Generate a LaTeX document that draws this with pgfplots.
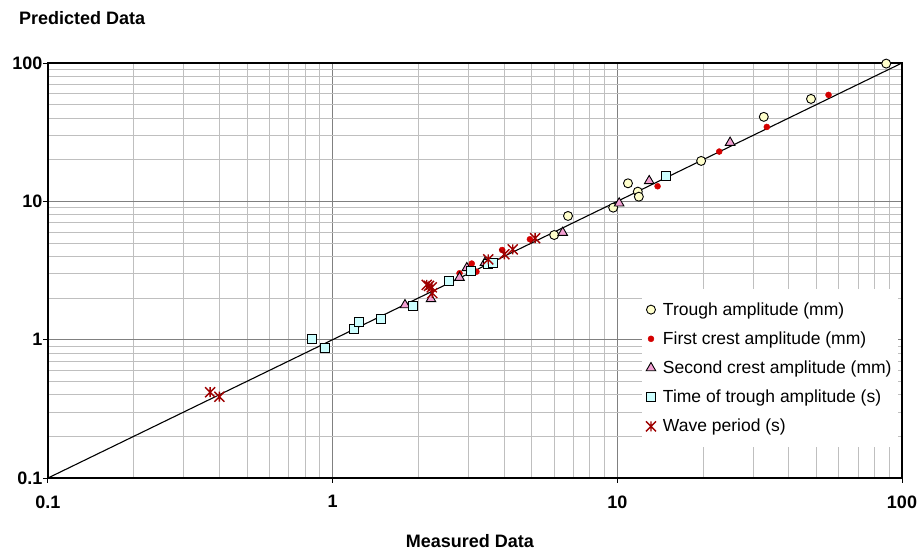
\documentclass[border=0pt]{standalone}
\usepackage{fontspec}
\setmainfont{Liberation Sans}
\usepackage{pgfplots}
\pgfplotsset{compat=1.18}
\definecolor{circfill}{HTML}{FFFFCC}
\definecolor{dotred}{HTML}{D40000}
\definecolor{trifill}{HTML}{F2A0D2}
\definecolor{sqfill}{HTML}{CCFFFF}
\definecolor{starred}{HTML}{9E0000}
\pgfdeclareplotmark{xstar}{%
 \pgfpathmoveto{\pgfqpoint{-\pgfplotmarksize}{-\pgfplotmarksize}}%
 \pgfpathlineto{\pgfqpoint{\pgfplotmarksize}{\pgfplotmarksize}}%
 \pgfpathmoveto{\pgfqpoint{-\pgfplotmarksize}{\pgfplotmarksize}}%
 \pgfpathlineto{\pgfqpoint{\pgfplotmarksize}{-\pgfplotmarksize}}%
 \pgfpathmoveto{\pgfqpoint{0pt}{-\pgfplotmarksize}}%
 \pgfpathlineto{\pgfqpoint{0pt}{\pgfplotmarksize}}%
 \pgfusepathqstroke}
\begin{document}
\begin{tikzpicture}
\path[use as bounding box] (-48pt,-71pt) rectangle (871pt,478pt);
\begin{axis}[
  at={(0,0)}, anchor=south west,
  scale only axis, width=854pt, height=415pt,
  xmode=log, ymode=log,
  xmin=0.1, xmax=100, ymin=0.1, ymax=100,
  xtick={0.1,1,10,100}, xticklabels={0.1,1,10,100},
  ytick={0.1,1,10,100}, yticklabels={0.1,1,10,100},
  ticklabel style={font=\bfseries\fontsize{18}{21}\selectfont},
  xticklabel style={yshift=-9pt},
  yticklabel style={xshift=3pt},
  tick align=outside, tick pos=left,
  major tick length=5pt, minor tick length=0pt,
  major tick style={black, line width=1pt},
  grid=both,
  major grid style={draw=black!50, line width=0.9pt},
  minor grid style={draw=black!25, line width=0.8pt},
  axis line style={black, line width=1.2pt},
  xlabel={Measured Data},
  xlabel style={at={(axis description cs:0.494,0)}, anchor=base, yshift=-69pt, font=\bfseries\fontsize{18}{21}\selectfont},
  legend style={at={(rel axis cs:0.995,0.457)}, anchor=north east, draw=none, fill=white,
    font=\fontsize{17.5}{21}\selectfont, row sep=11pt, inner xsep=4pt, inner ysep=12pt,
    /tikz/every odd column/.append style={column sep=5pt}},
  legend cell align=left,
]
\addplot[black, line width=1.1pt, forget plot] coordinates {(0.1,0.1) (100,100)};

\addplot[only marks, mark=*, mark size=4.5pt, mark options={draw=black, fill=circfill, line width=0.9pt}]
coordinates {(88,99) (47.9,55) (32.7,40.8) (19.7,19.6) (10.9,13.5) (11.8,11.75) (11.9,10.8) (9.67,9.0) (6.71,7.84) (6.0,5.71)};
\addlegendentry{Trough amplitude (mm)}

\addplot[only marks, mark=*, mark size=3pt, mark options={draw=dotred, fill=dotred}]
coordinates {(2.79,3.02) (3.08,3.55) (3.20,3.10) (3.94,4.45) (4.93,5.32) (13.85,12.85) (22.8,22.9) (33.5,34.5) (55.2,58.8)};
\addlegendentry{First crest amplitude (mm)}

\addplot[only marks, mark=triangle*, mark size=5.5pt, mark options={draw=black, fill=trifill, line width=0.9pt}]
coordinates {(1.795,1.78) (2.215,1.97) (2.79,2.81) (2.96,3.3) (3.43,3.61) (6.43,5.94) (10.15,9.69) (12.94,14.05) (24.9,26.6)};
\addlegendentry{Second crest amplitude (mm)}

\addplot[only marks, mark=square*, mark size=4.5pt, mark options={draw=black, fill=sqfill, line width=0.9pt}]
coordinates {(0.846,1.01) (0.939,0.875) (1.19,1.19) (1.237,1.34) (1.48,1.41) (1.91,1.75) (2.57,2.66) (3.07,3.15) (3.5,3.5) (3.66,3.61) (14.78,15.3)};
\addlegendentry{Time of trough amplitude (s)}

\addplot[only marks, mark=xstar, mark size=5pt, mark options={draw=starred, line width=1.4pt}]
coordinates {(0.371,0.417) (0.40,0.387) (2.14,2.49) (2.18,2.45) (2.23,2.39) (2.24,2.17) (3.52,3.81) (4.01,4.14) (4.29,4.5) (5.14,5.41)};
\addlegendentry{Wave period (s)}
\end{axis}
\node[anchor=base west, font=\bfseries\fontsize{18}{21}\selectfont, inner sep=0pt] at (-29pt,453pt) {Predicted Data};
\end{tikzpicture}
\end{document}
